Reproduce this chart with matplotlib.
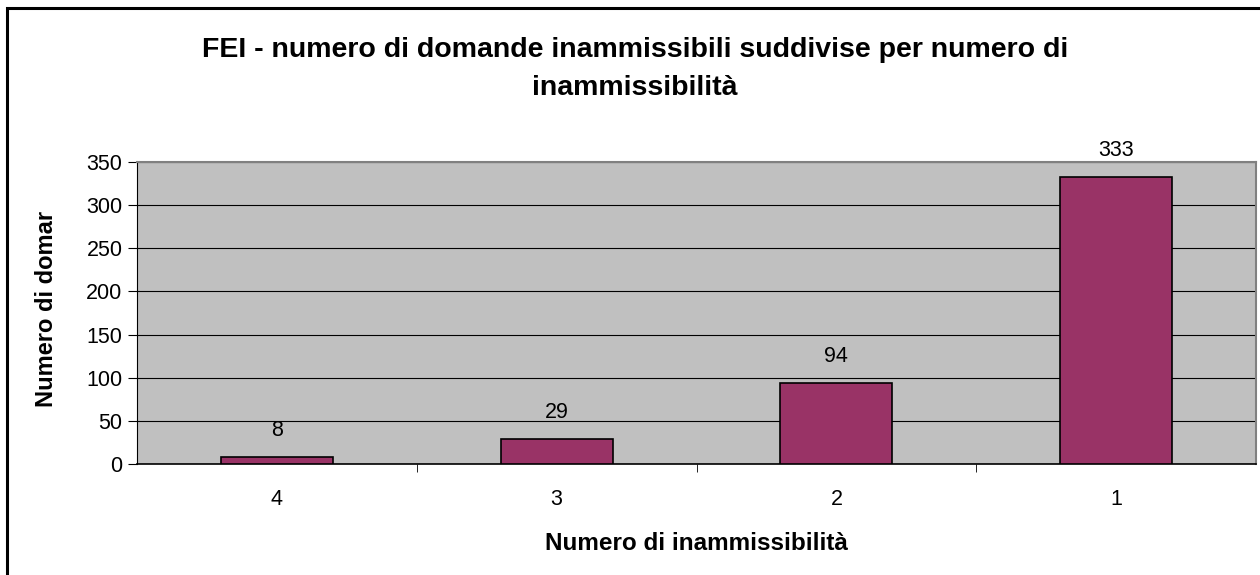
import matplotlib
matplotlib.use("Agg")
import matplotlib.pyplot as plt
from matplotlib.patches import Rectangle

categories = ["4", "3", "2", "1"]
values = [8, 29, 94, 333]
yticks = [0, 50, 100, 150, 200, 250, 300, 350]

plt.rcParams['font.family'] = ['Liberation Sans', 'DejaVu Sans']

W, H = 1260, 575
fig = plt.figure(figsize=(W/100, H/100), dpi=100)
fig.patch.set_facecolor('white')

# outer border
fig.patches.append(Rectangle((7/W, -0.1), 1.2, (H-8)/H + 0.1, transform=fig.transFigure,
                             fill=False, edgecolor='black', linewidth=2.2))

left, right, top, bottom = 137, 1256, 162, 464
ax = fig.add_axes([left/W, 1-bottom/H, (right-left)/W, (bottom-top)/H])
ax.set_facecolor('#C0C0C0')
x = list(range(len(categories)))
ax.bar(x, values, width=0.4, color='#993366', edgecolor='black', linewidth=1.2, zorder=3)
ax.set_xlim(-0.5, len(categories)-0.5)
ax.set_ylim(0, 350)
ax.set_yticks(yticks)
ax.set_yticklabels([str(t) for t in yticks], fontsize=15.5)
ax.yaxis.grid(True, color='black', linewidth=0.8, zorder=1)
ax.set_axisbelow(True)
ax.set_xticks(x)
ax.set_xticklabels(categories, fontsize=15.5)
ax.tick_params(axis='x', length=0, pad=18)
ax.set_xticks([i + 0.5 for i in x[:-1]], minor=True)
ax.tick_params(axis='x', which='minor', length=6, direction='out', color='black')
ax.tick_params(axis='y', length=6.5, direction='out', pad=4)
for s in ['top', 'right']:
    ax.spines[s].set_color('#808080')
    ax.spines[s].set_linewidth(1.5)
ax.spines['left'].set_color('black')
ax.spines['bottom'].set_color('black')
ax.spines['bottom'].set_linewidth(1.2)

for xi, v in zip(x, values):
    ax.annotate(str(v), (xi, v), xytext=(0, 19), textcoords='offset points',
                ha='center', va='center', fontsize=15.5)

ax.text(-0.0805, 0.513, "Numero di domar", transform=ax.transAxes, rotation=90,
        ha='center', va='center', fontsize=17, fontweight='bold')
ax.text(0.5, -0.262, "Numero di inammissibilità", transform=ax.transAxes,
        ha='center', va='center', fontsize=17.5, fontweight='bold')

fig.text(635/W, 1-69/H, "FEI - numero di domande inammissibili suddivise per numero di\ninammissibilità",
         ha='center', va='center', fontsize=20.5, fontweight='bold', linespacing=1.62)

fig.savefig("out.png", dpi=100)
